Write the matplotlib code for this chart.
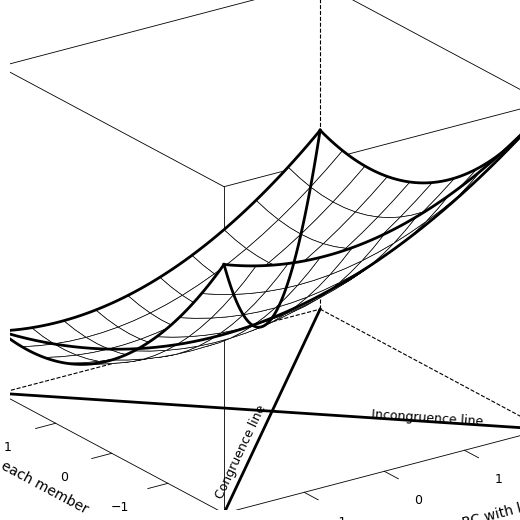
import numpy as np
import matplotlib.pyplot as plt

# polynomial coefficients of the response surface (x = member RC, y = leader RC)
coef_names = ["b0", "x", "y", "x2", "xy", "y2"]
coef_vals = [2.2, 0.3, -0.525, 0.15, 0.0375, 0.2]
x_ticks = [-2, -1, 0, 1, 2]
y_ticks = [-2, -1, 0, 1, 2]
z_ticks = [2, 3, 4, 5]
zmin, zmax = 1.0, 5.2

b = dict(zip(coef_names, coef_vals))
def surf(x, y):
    return b["b0"] + b["x"]*x + b["y"]*y + b["x2"]*x**2 + b["xy"]*x*y + b["y2"]*y**2

fig = plt.figure(figsize=(5.2, 5.2), dpi=100)
ax = fig.add_axes([0.02, 0.02, 0.98, 0.98], projection='3d', proj_type='ortho')
ax.view_init(elev=22, azim=-125)
ax.set_axis_off()
ax.set_box_aspect((1, 1, 0.9), zoom=1.25)

g = np.linspace(-2, 2, 21)
X, Y = np.meshgrid(g, g)
Z = surf(X, Y)
ax.plot_surface(X, Y, Z, color='white', edgecolor='black', linewidth=0.5,
                rstride=2, cstride=2, shade=False, alpha=1)

t = np.linspace(-2, 2, 60)
for xs, ys in [(t, t), (t, -t), (t, np.full_like(t, -2)), (t, np.full_like(t, 2)),
               (np.full_like(t, -2), t), (np.full_like(t, 2), t)]:
    ax.plot(xs, ys, surf(xs, ys), color='black', lw=2, zorder=10)

# floor lines
ax.plot([-2, 2], [-2, 2], [zmin, zmin], color='black', lw=2)
ax.plot([-2, 2], [2, -2], [zmin, zmin], color='black', lw=2)
ax.text(-1.85, -1.6, zmin, "Congruence line", zdir=(1, 1, 0.0), fontsize=9)
ax.text(0.6, -0.9, zmin, "Incongruence line", zdir=(1, -1, 0.0), fontsize=9)

# box
solid = [
    ([-2, 2], [-2, -2], [zmin, zmin]), ([-2, -2], [-2, 2], [zmin, zmin]),
    ([-2, -2], [-2, -2], [zmin, zmax]), ([2, 2], [-2, -2], [zmin, zmax]),
    ([-2, -2], [2, 2], [zmin, zmax]),
    ([-2, 2], [-2, -2], [zmax, zmax]), ([-2, -2], [-2, 2], [zmax, zmax]),
    ([2, 2], [-2, 2], [zmax, zmax]), ([-2, 2], [2, 2], [zmax, zmax]),
]
for xs, ys, zs in solid:
    ax.plot(xs, ys, zs, color='black', lw=0.6)
for xs, ys, zs in [([2, 2], [2, 2], [zmin, zmax]), ([2, 2], [-2, 2], [zmin, zmin]),
                   ([-2, 2], [2, 2], [zmin, zmin])]:
    ax.plot(xs, ys, zs, color='black', lw=0.8, ls='--')

# ticks
for v in x_ticks:
    ax.plot([v, v], [-2, -2.25], [zmin, zmin], color='black', lw=0.6)
    ax.text(v, -2.6, zmin - 0.15, str(v).replace('-', '\u2212'), fontsize=9, ha='center', va='center')
for v in y_ticks:
    ax.plot([-2, -2.25], [v, v], [zmin, zmin], color='black', lw=0.6)
    ax.text(-2.6, v, zmin - 0.15, str(v).replace('-', '\u2212'), fontsize=9, ha='center', va='center')
for v in z_ticks:
    ax.plot([-2, -2], [2, 2.25], [v, v], color='black', lw=0.6)
    ax.text(-2, 2.7, v, str(v), fontsize=9, ha='center', va='center')

ax.text(0.3, -3.3, zmin - 0.5, "Member RC with leader", zdir=(1, 0, 0), fontsize=10, ha='center')
ax.text(-3.3, 0.2, zmin - 0.5, "Leader RC with each member", zdir=(0, 1, 0), fontsize=10, ha='center')
ax.text(-2, 3.3, 3.2, "Individual Creativity", zdir='z', fontsize=10, ha='center', va='center')

ax.set_xlim(-2, 2); ax.set_ylim(-2, 2); ax.set_zlim(zmin, zmax)
fig.savefig("out.png", dpi=100)
